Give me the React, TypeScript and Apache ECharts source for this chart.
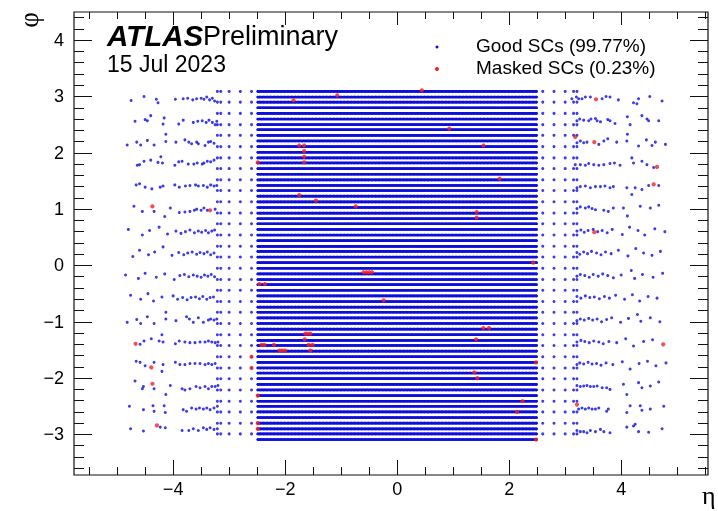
import React, { useEffect, useRef } from "react";
import * as echarts from "echarts";

// ---------- axes ----------
const X_RANGE = [-5.77, 5.55];
const Y_RANGE = [-3.72, 4.5];
const X_MAJOR_TICKS = [-4, -2, 0, 2, 4];
const X_MINOR_TICKS = [-5.5, -5, -4.5, -3.5, -3, -2.5, -1.5, -1, -0.5, 0.5, 1, 1.5, 2.5, 3, 3.5, 4.5, 5, 5.5];
const Y_MAJOR_TICKS = [-3, -2, -1, 0, 1, 2, 3, 4];
const Y_MINOR_TICKS = [
  -3.6, -3.4, -3.2, -2.8, -2.6, -2.4, -2.2, -1.8, -1.6, -1.4, -1.2, -0.8, -0.6, -0.4, -0.2,
  0.2, 0.4, 0.6, 0.8, 1.2, 1.4, 1.6, 1.8, 2.2, 2.4, 2.6, 2.8, 3.2, 3.4, 3.6, 3.8, 4.2, 4.4,
];

// ---------- supercell geometry ----------
// central (|eta| < 2.5) fine binning
const CENTRAL_ETA_RANGE = [-2.5, 2.5];
const CENTRAL_ETA_BIN_WIDTH = 0.025;
const PHI_FINE_ROWS = [
  3.09, 2.99, 2.9, 2.8, 2.7, 2.6, 2.5, 2.41, 2.31, 2.21, 2.11, 2.01, 1.91, 1.82, 1.72, 1.62,
  1.52, 1.42, 1.33, 1.23, 1.13, 1.03, 0.93, 0.83, 0.74, 0.64, 0.54, 0.44, 0.34, 0.25, 0.15, 0.05,
  -0.05, -0.15, -0.25, -0.34, -0.44, -0.54, -0.64, -0.74, -0.83, -0.93, -1.03, -1.13, -1.23, -1.33, -1.42, -1.52,
  -1.62, -1.72, -1.82, -1.91, -2.01, -2.11, -2.21, -2.31, -2.41, -2.5, -2.6, -2.7, -2.8, -2.9, -2.99, -3.09,
];
// outer wheel columns (2.5 < |eta| < 3.2), coarse phi
const OUTER_ETA_COLUMNS = [-3.21, -3.15, -3.0, -2.8, -2.6, 2.6, 2.8, 3.0, 3.15, 3.21];
const PHI_COARSE_ROWS = [
  3.09, 2.9, 2.7, 2.5, 2.31, 2.11, 1.91, 1.72, 1.52, 1.33, 1.13, 0.93, 0.74, 0.54, 0.34, 0.15,
  -0.05, -0.25, -0.44, -0.64, -0.83, -1.03, -1.23, -1.42, -1.62, -1.82, -2.01, -2.21, -2.41, -2.6, -2.8, -2.99,
];
// forward region: 16 phi bands, each with [eta, dphi] points
const FCAL_BAND_PHI = [2.95, 2.56, 2.17, 1.78, 1.38, 0.99, 0.6, 0.21, -0.19, -0.58, -0.97, -1.37, -1.76, -2.15, -2.55, -2.94];
const FCAL_NEG = [
  [[-4.75,-0.02],[-4.52,0.05],[-4.3,0],[-4.27,-0.06],[-3.96,0],[-3.82,0.01],[-3.74,0.02],[-3.65,-0.01],[-3.58,0.01],[-3.5,0.02],[-3.45,0],[-3.4,0.04],[-3.35,-0.01],[-3.3,0.02],[-3.26,-0.03]],
  [[-4.68,0],[-4.5,0.03],[-4.46,0.01],[-4.4,0.1],[-4.16,0.06],[-4.18,-0.05],[-3.9,-0.05],[-3.82,0.02],[-3.64,-0.02],[-3.56,0],[-3.48,0.01],[-3.41,-0.02],[-3.36,0.02],[-3.3,-0.02],[-3.25,-0.06],[-3.22,0]],
  [[-4.82,-0.03],[-4.65,0.02],[-4.58,-0.03],[-4.46,0.05],[-4.34,-0.03],[-4.13,0.03],[-4.13,0.16],[-3.95,0.02],[-3.79,0.06],[-3.72,0.02],[-3.67,-0.01],[-3.58,0.02],[-3.55,-0.01],[-3.43,-0.04],[-3.37,0.02],[-3.33,0.03],[-3.27,0]],
  [[-4.64,0],[-4.6,0.01],[-4.52,0.07],[-4.4,0.09],[-4.27,0.05],[-4.22,0.15],[-4.19,0.04],[-3.97,0],[-3.9,0.06],[-3.84,0.07],[-3.73,0.02],[-3.63,0.02],[-3.57,0.04],[-3.48,0.02],[-3.45,0.04],[-3.39,0.07],[-3.33,0.06],[-3.27,0.09]],
  [[-4.66,0.05],[-4.6,0.07],[-4.5,0.01],[-4.38,-0.02],[-4.23,0.01],[-4.18,0.03],[-3.97,0.05],[-3.89,0.01],[-3.78,0.03],[-3.7,0.04],[-3.6,0.05],[-3.55,0.03],[-3.46,0.04],[-3.39,0.01],[-3.33,0.05],[-3.27,0.03],[-3.22,0.04]],
  [[-4.7,0.06],[-4.55,-0.03],[-4.34,-0.03],[-4.15,-0.12],[-4.05,0.03],[-3.89,-0.05],[-3.79,-0.04],[-3.7,-0.03],[-3.62,-0.01],[-3.58,0.01],[-3.5,-0.01],[-3.45,0.03],[-3.39,-0.01],[-3.25,0.01]],
  [[-4.8,0.04],[-4.55,-0.06],[-4.42,0.02],[-4.25,0.08],[-4.1,-0.04],[-3.95,0.01],[-3.86,-0.03],[-3.78,0],[-3.7,0.03],[-3.62,-0.02],[-3.55,0.01],[-3.49,-0.01],[-3.42,0.02],[-3.37,-0.02],[-3.31,0.01],[-3.26,0.03]],
  [[-4.72,-0.05],[-4.6,0.06],[-4.44,-0.02],[-4.33,0.03],[-4.18,0.12],[-4.02,-0.03],[-3.9,0.02],[-3.81,-0.02],[-3.74,0.01],[-3.66,0.03],[-3.58,-0.01],[-3.52,0.02],[-3.45,0],[-3.39,0.03],[-3.33,-0.02],[-3.27,0.01]],
  [[-4.85,0.02],[-4.62,-0.04],[-4.5,0.05],[-4.3,-0.02],[-4.15,0.04],[-3.98,-0.06],[-3.88,0.01],[-3.8,0.03],[-3.72,-0.01],[-3.64,0.02],[-3.57,0],[-3.5,-0.02],[-3.44,0.02],[-3.38,0],[-3.32,0.03],[-3.26,-0.01]],
  [[-4.76,0.05],[-4.58,-0.02],[-4.45,0.08],[-4.35,-0.05],[-4.2,0.02],[-4,0.04],[-3.92,-0.02],[-3.83,0.01],[-3.75,-0.03],[-3.68,0.01],[-3.6,0.02],[-3.53,-0.01],[-3.47,0.03],[-3.4,-0.02],[-3.34,0.01],[-3.28,0.02]],
  [[-4.82,-0.04],[-4.65,0.01],[-4.58,-0.06],[-4.46,0.06],[-4.34,-0.06],[-4.13,0.14],[-4.13,0.02],[-3.95,-0.01],[-3.76,0.06],[-3.71,0.02],[-3.64,-0.04],[-3.55,0.04],[-3.46,-0.04],[-3.37,0],[-3.33,0.02],[-3.27,0],[-3.22,0.02]],
  [[-4.59,-0.03],[-4.52,0.03],[-4.39,0.07],[-4.25,0.03],[-4.18,0.01],[-4.2,0.14],[-3.96,-0.02],[-3.89,0.03],[-3.79,0.01],[-3.7,0],[-3.61,0],[-3.52,0.01],[-3.43,0.01],[-3.37,0.03],[-3.31,0.01],[-3.25,0],[-3.2,0.01]],
  [[-4.66,0.06],[-4.59,0.04],[-4.5,-0.02],[-4.34,0.04],[-4.2,-0.12],[-4.18,0],[-3.96,0.04],[-3.88,0],[-3.79,0],[-3.7,0.02],[-3.61,0.02],[-3.52,0.02],[-3.43,0],[-3.37,0.02],[-3.31,0],[-3.25,0.02]],
  [[-4.68,0.1],[-4.53,0],[-4.55,-0.04],[-4.34,-0.04],[-4.13,-0.14],[-4.05,0.02],[-3.84,-0.04],[-3.79,-0.06],[-3.7,-0.04],[-3.59,0],[-3.52,-0.02],[-3.43,0],[-3.37,-0.04],[-3.31,0],[-3.25,0],[-3.2,0.02]],
  [[-4.78,0.05],[-4.53,-0.01],[-4.36,0.06],[-4.34,-0.04],[-4.16,0.06],[-4.14,-0.06],[-3.82,-0.01],[-3.76,-0.04],[-3.67,0.02],[-3.59,0],[-3.53,0.02],[-3.46,0],[-3.4,0.02],[-3.34,-0.01],[-3.27,0.02],[-3.21,0.05]],
  [[-4.76,0.04],[-4.53,0],[-4.23,0.07],[-4.14,0.06],[-3.84,0.01],[-3.72,0.01],[-3.64,0.04],[-3.55,0.01],[-3.46,0.06],[-3.4,0.03],[-3.34,0.06],[-3.27,0.03],[-3.21,0.04]],
];
const FCAL_POS = [
  [[3.12,0.01],[3.2,0.04],[3.24,0.01],[3.3,0.01],[3.36,0.04],[3.45,0.04],[3.66,0.01],[3.73,0.05],[3.8,0.04],[3.95,-0.01],[4.22,-0.06],[4.28,-0.08],[4.31,0.01],[4.51,0.05],[4.73,-0.03]],
  [[3.21,0.01],[3.26,0.04],[3.33,0.02],[3.42,0.01],[3.46,0.04],[3.54,0.05],[3.57,0.01],[3.63,-0.01],[3.76,0.03],[3.8,0.01],[3.89,-0.04],[4.11,0.08],[4.16,-0.06],[4.37,0.1],[4.46,0.04],[4.49,0.01],[4.67,0.01]],
  [[3.21,0.01],[3.27,0.04],[3.33,0.01],[3.39,0.02],[3.6,-0.02],[3.69,0.04],[3.76,0.08],[3.92,0.02],[4.1,0.04],[4.11,0.16],[4.31,-0.05],[4.45,0.06],[4.55,-0.04],[4.61,0.02],[4.79,-0.02]],
  [[3.18,0.01],[3.27,0.01],[3.36,0],[3.42,0.03],[3.51,0.01],[3.6,0],[3.69,0.01],[3.8,0.03],[3.88,0.04],[3.98,0],[4.19,0.13],[4.22,0.04],[4.37,0.07],[4.46,0.01],[4.58,-0.04]],
  [[3.21,0],[3.27,0.02],[3.36,0.03],[3.45,0],[3.54,0.02],[3.63,0.02],[3.71,0.03],[3.8,0],[3.86,0.02],[4.1,0],[4.19,-0.12],[4.25,0],[4.37,-0.03],[4.49,0.04],[4.67,0.04]],
  [[3.21,0.02],[3.27,0.05],[3.36,0.03],[3.42,0.05],[3.48,0.02],[3.54,0],[3.69,-0.01],[3.77,-0.03],[3.86,0.03],[4.04,0.03],[4.11,-0.11],[4.34,0.06],[4.52,0.03],[4.67,0.08]],
  [[3.21,0.01],[3.28,0.03],[3.34,-0.01],[3.41,0.02],[3.5,0.04],[3.58,0],[3.66,0.02],[3.75,-0.02],[3.84,0.04],[4.02,-0.05],[4.15,0.08],[4.3,0.02],[4.42,-0.06],[4.6,0.05],[4.78,0]],
  [[3.21,0.02],[3.26,-0.01],[3.33,0.03],[3.4,0],[3.47,0.04],[3.56,0.01],[3.64,-0.02],[3.72,0.03],[3.82,0],[3.95,0.06],[4.12,-0.04],[4.26,0.09],[4.4,0.01],[4.55,-0.03],[4.7,0.04]],
  [[3.21,0],[3.27,0.03],[3.35,0.01],[3.43,-0.02],[3.5,0.03],[3.59,0],[3.67,0.04],[3.76,0.01],[3.86,-0.03],[4,0.02],[4.18,0.1],[4.24,-0.04],[4.38,0.03],[4.57,-0.02],[4.74,0.05]],
  [[3.21,0.03],[3.28,0],[3.36,0.04],[3.44,0.01],[3.52,0.02],[3.61,-0.01],[3.7,0.03],[3.79,0],[3.9,0.05],[4.06,-0.02],[4.2,0.06],[4.33,-0.05],[4.48,0.03],[4.64,0]],
  [[3.21,-0.01],[3.27,0.02],[3.34,0],[3.42,0.03],[3.49,0],[3.57,0.02],[3.65,-0.03],[3.74,0.01],[3.83,0.04],[3.99,-0.04],[4.13,0.03],[4.29,0.1],[4.35,-0.02],[4.52,0.04],[4.69,-0.03]],
  [[3.21,0.01],[3.28,0.04],[3.35,0.02],[3.43,0],[3.51,0.03],[3.6,0.01],[3.68,-0.02],[3.78,0.02],[3.92,0],[4.08,0.07],[4.22,-0.06],[4.4,0.02],[4.56,0.05]],
  [[3.21,0],[3.26,0.03],[3.33,0.01],[3.41,0.04],[3.48,0.01],[3.56,0.02],[3.64,-0.01],[3.73,0.03],[3.85,0],[4.02,0.05],[4.16,-0.08],[4.32,0.02],[4.47,0.06],[4.62,-0.02],[4.8,0.03]],
  [[3.21,0.02],[3.27,0],[3.33,0.01],[3.39,0.02],[3.45,0],[3.51,0],[3.57,0.01],[3.66,-0.02],[3.74,-0.02],[3.8,-0.05],[4.04,0.04],[4.1,-0.14],[4.31,0.07],[4.37,-0.02],[4.52,0.01],[4.67,0.08]],
  [[3.24,0],[3.3,0.02],[3.36,0],[3.42,0.02],[3.48,0],[3.54,0],[3.6,0.02],[3.74,-0.04],[3.77,0],[4.1,-0.06],[4.16,0.06],[4.34,0.06],[4.37,-0.02],[4.52,0],[4.76,0.05]],
  [[3.21,0.01],[3.27,-0.01],[3.33,-0.01],[3.39,-0.03],[3.45,0.01],[3.54,-0.01],[3.63,0.03],[3.69,-0.01],[3.8,-0.03],[4.1,0.07],[4.22,0.09],[4.25,0.12],[4.31,-0.01],[4.49,-0.02],[4.73,0.04]],
];
// masked supercells [eta, phi]
const MASKED_SCS = [
  [-1.07,3.02],[-1.85,2.93],[-1.75,2.13],[-1.66,2.13],[-1.66,2.03],[-1.66,1.93],[-1.66,1.83],[-2.49,1.83],
  [-1.75,1.25],[-1.45,1.15],[-0.74,1.05],[0.44,3.11],[0.93,2.43],[1.54,2.13],[1.83,1.54],[1.42,0.95],[1.42,0.85],[2.43,0.05],
  [-0.6,-0.12],[-0.55,-0.12],[-0.5,-0.12],[-0.45,-0.12],[-2.46,-0.33],[-2.36,-0.33],[-0.24,-0.62],
  [-1.64,-1.21],[-1.6,-1.21],[-1.55,-1.21],[-1.65,-1.31],[-2.42,-1.41],[-2.37,-1.41],[-2.2,-1.41],[-1.58,-1.41],[-1.51,-1.41],
  [-2.1,-1.51],[-2.05,-1.51],[-2.0,-1.51],[-1.55,-1.51],[-2.6,-1.62],[-2.6,-1.82],[-2.49,-2.31],[-2.49,-2.8],[-2.49,-2.9],
  [1.54,-1.11],[1.64,-1.11],[1.41,-1.31],[2.48,-1.72],[1.38,-1.9],[1.43,-2.0],[2.24,-2.41],[2.14,-2.6],[2.48,-3.09],
  [-4.37,1.05],[-3.34,0.98],[-4.67,-1.39],[-4.39,-1.81],[-4.37,-2.1],[-4.29,-2.84],
  [3.55,2.95],[3.18,2.28],[3.52,2.19],[4.64,1.75],[4.58,1.44],[3.21,-2.47],[3.52,0.59],[4.75,-1.4],
];
const LEGEND_LABELS = ["Good SCs (99.77%)", "Masked SCs (0.23%)"];

const BLUE = "#0b0bdc";
const RED = "#f52020";

function buildGood() {
  const central: number[][] = [];
  const n = Math.round((CENTRAL_ETA_RANGE[1] - CENTRAL_ETA_RANGE[0]) / CENTRAL_ETA_BIN_WIDTH);
  for (const phi of PHI_FINE_ROWS) {
    for (let i = 0; i < n; i++) {
      central.push([CENTRAL_ETA_RANGE[0] + (i + 0.5) * CENTRAL_ETA_BIN_WIDTH, phi]);
    }
  }
  const outer: number[][] = [];
  for (const eta of OUTER_ETA_COLUMNS) for (const phi of PHI_COARSE_ROWS) outer.push([eta, phi]);
  FCAL_BAND_PHI.forEach((c, b) => {
    for (const p of FCAL_NEG[b]) outer.push([p[0], c + p[1]]);
    for (const p of FCAL_POS[b]) outer.push([p[0], c + p[1]]);
  });
  return { central, outer };
}

const minus = (v: number) => (v < 0 ? "\u2212" + Math.abs(v) : String(v));

export default function App() {
  const ref = useRef<HTMLDivElement>(null);
  useEffect(() => {
    if (!ref.current) return;
    const chart = echarts.init(ref.current, undefined, { renderer: "svg" });
    const { central, outer } = buildGood();
    const font = "Liberation Sans, Arial, Helvetica, sans-serif";
    const baseAxis = (min: number, max: number) => ({
      type: "value" as const,
      min,
      max,
      axisLine: { show: false, onZero: false },
      splitLine: { show: false },
    });
    const tick = (vals: number[], len: number) => ({
      show: true,
      inside: true,
      length: len,
      customValues: vals,
      lineStyle: { color: "#111", width: 1 },
    });
    const noLabel = { show: false };
    chart.setOption({
      animation: false,
      grid: {
        left: 74, right: 10, top: 12, bottom: 36,
        show: true, borderColor: "#111", borderWidth: 1.2, backgroundColor: "transparent",
        outerBoundsMode: "none",
      },
      xAxis: [
        {
          ...baseAxis(X_RANGE[0], X_RANGE[1]), position: "bottom",
          axisTick: tick(X_MAJOR_TICKS, 15),
          axisLabel: { customValues: X_MAJOR_TICKS, formatter: minus, fontSize: 18, color: "#000", fontFamily: font, margin: 5 },
        },
        { ...baseAxis(X_RANGE[0], X_RANGE[1]), position: "bottom", axisTick: tick(X_MINOR_TICKS, 8), axisLabel: noLabel },
        { ...baseAxis(X_RANGE[0], X_RANGE[1]), position: "top", axisTick: tick(X_MAJOR_TICKS, 13), axisLabel: noLabel },
        { ...baseAxis(X_RANGE[0], X_RANGE[1]), position: "top", axisTick: tick(X_MINOR_TICKS, 7), axisLabel: noLabel },
      ],
      yAxis: [
        {
          ...baseAxis(Y_RANGE[0], Y_RANGE[1]), position: "left",
          axisTick: tick(Y_MAJOR_TICKS, 18),
          axisLabel: { customValues: Y_MAJOR_TICKS, formatter: minus, fontSize: 18, color: "#000", fontFamily: font, margin: 10 },
        },
        { ...baseAxis(Y_RANGE[0], Y_RANGE[1]), position: "left", axisTick: tick(Y_MINOR_TICKS, 10), axisLabel: noLabel },
        { ...baseAxis(Y_RANGE[0], Y_RANGE[1]), position: "right", axisTick: tick(Y_MAJOR_TICKS, 18), axisLabel: noLabel },
        { ...baseAxis(Y_RANGE[0], Y_RANGE[1]), position: "right", axisTick: tick(Y_MINOR_TICKS, 10), axisLabel: noLabel },
      ],
      series: [
        {
          type: "scatter", name: "central", data: central, symbol: "circle", symbolSize: 2.6,
          large: true, largeThreshold: 2000, itemStyle: { color: BLUE }, silent: true,
        },
        {
          type: "scatter", name: "outer", data: outer, symbol: "circle", symbolSize: 3,
          itemStyle: { color: BLUE }, silent: true,
        },
        {
          type: "scatter", name: "masked", data: MASKED_SCS, symbol: "circle", symbolSize: 4.2, z: 5,
          itemStyle: { color: RED }, silent: true,
        },
      ],
      graphic: [
        { type: "text", left: 107, top: 20, style: { text: "ATLAS", font: "italic bold 29.5px " + font, fill: "#000" } },
        { type: "text", left: 203, top: 22, style: { text: "Preliminary", font: "27px " + font, fill: "#000" } },
        { type: "text", left: 107, top: 52, style: { text: "15 Jul 2023", font: "23px " + font, fill: "#000" } },
        { type: "circle", shape: { cx: 437, cy: 47, r: 1.5 }, style: { fill: BLUE } },
        { type: "circle", shape: { cx: 437, cy: 69, r: 2 }, style: { fill: RED } },
        { type: "text", left: 476, top: 36, style: { text: LEGEND_LABELS[0], font: "19px " + font, fill: "#000" } },
        { type: "text", left: 476, top: 58, style: { text: LEGEND_LABELS[1], font: "19px " + font, fill: "#000" } },
        {
          type: "text", x: 29, y: 20, rotation: Math.PI / 2,
          style: { text: "\u03C6", font: "27px Liberation Serif, serif", fill: "#000", align: "center", verticalAlign: "middle" },
        },
        {
          type: "text", left: 702, top: 482,
          style: { text: "\u03B7", font: "26px Liberation Serif, serif", fill: "#000" },
        },
      ],
    });
    return () => chart.dispose();
  }, []);
  return <div ref={ref} style={{ position: "fixed", left: 0, top: 0, width: 718, height: 511 }} />;
}
